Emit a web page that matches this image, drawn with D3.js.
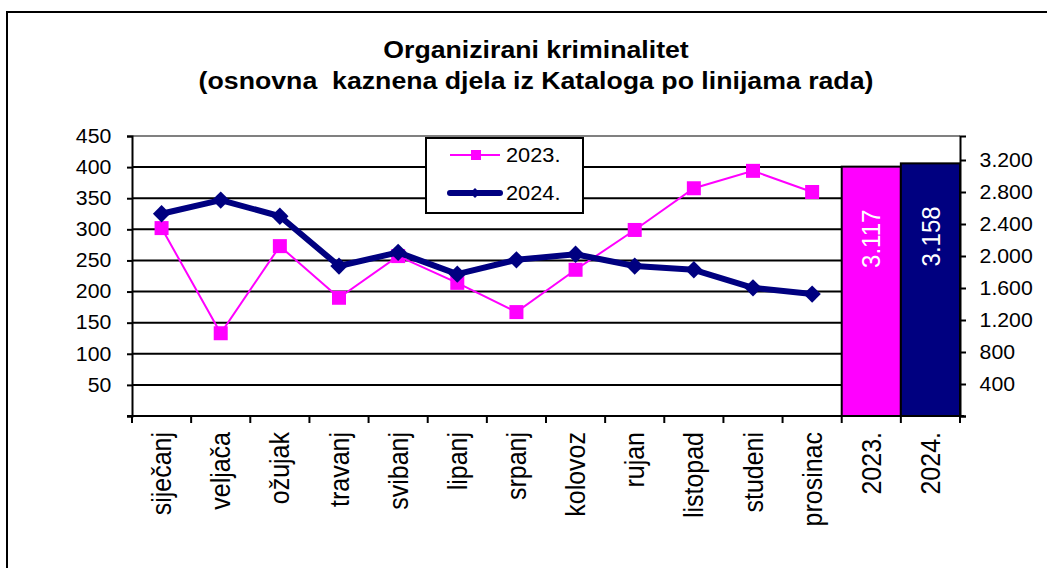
<!DOCTYPE html>
<html><head><meta charset="utf-8">
<script src="https://cdn.jsdelivr.net/npm/d3@7"></script>
<style>html,body{margin:0;padding:0;background:#fff;}svg{display:block;}</style>
</head><body>
<svg id="c" width="1047" height="568"></svg>
<script>
const months = ["siječanj","veljača","ožujak","travanj","svibanj","lipanj","srpanj","kolovoz","rujan","listopad","studeni","prosinac"];
const totalCats = ["2023.","2024."];
const categories = months.concat(totalCats);
const values2023 = [302,133,273,190,257,214,167,235,299,366,394,360];
const values2024 = [325,347,321,241,263,228,251,260,241,235,206,196];
const totals = [3117,3158];
const seriesNames = ["2023.","2024."];
const leftTicks = [0,50,100,150,200,250,300,350,400,450];
const rightTicks = [0,400,800,1200,1600,2000,2400,2800,3200];
const titleLines = ["Organizirani kriminalitet","(osnovna  kaznena djela iz Kataloga po linijama rada)"];

const MAG = "#FF00FF", NAVY = "#000080";
const FONT = "'Liberation Sans', Arial, sans-serif";
const SX = 1.09;
const loc = d3.formatLocale({decimal:",", thousands:".", grouping:[3], currency:["","€"]});
const fmt = loc.format(",d");

const svg = d3.select("#c");
svg.append("rect").attr("width",1047).attr("height",568).attr("fill","#fff");
svg.append("rect").attr("x",7).attr("y",12).attr("width",1100).attr("height",600)
  .attr("fill","none").attr("stroke","#000").attr("stroke-width",2);

// title
titleLines.forEach((t,i)=>{
  svg.append("text").attr("transform",`translate(536,${58+i*31}) scale(${SX},1)`)
    .attr("text-anchor","middle").attr("font-family",FONT).attr("font-weight","bold")
    .attr("font-size","24.5px").attr("fill","#000").style("white-space","pre")
    .attr("xml:space","preserve").text(t);
});

const L = 132, R = 960, T = 136, B = 416;
const x = d3.scaleBand().domain(categories).range([L,R]).padding(0);
const yL = d3.scaleLinear().domain([0,450]).range([B,T]);
const yR = d3.scaleLinear().domain([0,3500]).range([B,T]);

// gridlines
svg.append("g").selectAll("line").data(leftTicks.filter(d=>d>0)).join("line")
  .attr("x1",L).attr("x2",R).attr("y1",d=>yL(d)).attr("y2",d=>yL(d))
  .attr("stroke",d=>d===450?"#808080":"#000").attr("stroke-width",2);

// bars
const barData = totalCats.map((c,i)=>({cat:c,v:totals[i],color:i===0?MAG:NAVY}));
svg.append("g").selectAll("rect").data(barData).join("rect")
  .attr("x",d=>x(d.cat)).attr("width",x.bandwidth())
  .attr("y",d=>yR(d.v)).attr("height",d=>B-yR(d.v))
  .attr("fill",d=>d.color).attr("stroke","#000").attr("stroke-width",2);
svg.append("g").selectAll("text").data(barData).join("text")
  .attr("transform",d=>`translate(${x(d.cat)+x.bandwidth()/2},${yR(d.v)+43}) scale(${SX},1) rotate(-90)`)
  .attr("text-anchor","end").attr("dy","0.35em").attr("font-family",FONT).attr("font-size","24px")
  .attr("fill","#fff").text(d=>fmt(d.v));

// left axis
const gl = svg.append("g").attr("transform",`translate(${L},0)`)
  .call(d3.axisLeft(yL).tickValues(leftTicks).tickSize(5).tickPadding(14).tickFormat(d=>d===0?"":d));
gl.select(".domain").attr("stroke-width",2).attr("stroke","#000");
gl.selectAll(".tick line").attr("stroke-width",2);
gl.selectAll(".tick text").attr("font-family",FONT).attr("font-size","19.5px").attr("fill","#000")
  .attr("transform",`scale(${SX},1)`);

// right axis
const gr = svg.append("g").attr("transform",`translate(${R},0)`)
  .call(d3.axisRight(yR).tickValues(rightTicks).tickSize(6).tickPadding(12).tickFormat(d=>d===0?"":fmt(d)));
gr.select(".domain").attr("stroke-width",2).attr("stroke","#000");
gr.selectAll(".tick line").attr("stroke-width",2);
gr.selectAll(".tick text").attr("font-family",FONT).attr("font-size","19.5px").attr("fill","#000")
  .attr("transform",`scale(${SX},1)`);

// bottom axis (ticks at band boundaries)
const gb = svg.append("g");
gb.append("line").attr("x1",L-5).attr("x2",R+4).attr("y1",B).attr("y2",B).attr("stroke","#000").attr("stroke-width",2);
const bounds = categories.map(c=>x(c)).concat([x(categories[categories.length-1])+x.bandwidth()]);
gb.selectAll("line.tk").data(bounds).join("line").attr("class","tk")
  .attr("x1",d=>d).attr("x2",d=>d).attr("y1",B).attr("y2",B+7).attr("stroke","#000").attr("stroke-width",2);
gb.selectAll("text").data(categories).join("text")
  .attr("transform",c=>`translate(${x(c)+x.bandwidth()/2},${B+16}) scale(${SX},1) rotate(-90)`)
  .attr("text-anchor","end").attr("dy","0.35em").attr("font-family",FONT).attr("font-size","25px")
  .attr("fill","#000").text(c=>c);

// lines
const cx = c=>x(c)+x.bandwidth()/2;
const d23 = months.map((m,i)=>({cat:m,v:values2023[i]}));
const d24 = months.map((m,i)=>({cat:m,v:values2024[i]}));
const line = d3.line().x(d=>cx(d.cat)).y(d=>yL(d.v));
svg.append("path").datum(d23).attr("d",line).attr("fill","none").attr("stroke",MAG).attr("stroke-width",2);
svg.append("g").selectAll("rect").data(d23).join("rect")
  .attr("x",d=>cx(d.cat)-7).attr("y",d=>yL(d.v)-7).attr("width",14).attr("height",14).attr("fill",MAG);
svg.append("path").datum(d24).attr("d",line).attr("fill","none").attr("stroke",NAVY).attr("stroke-width",6)
  .attr("stroke-linejoin","round");
svg.append("g").selectAll("path").data(d24).join("path")
  .attr("transform",d=>`translate(${cx(d.cat)},${yL(d.v)}) rotate(45)`).attr("d",d3.symbol().type(d3.symbolSquare).size(150)).attr("fill",NAVY);

// legend
const lg = svg.append("g");
lg.append("rect").attr("x",426).attr("y",138).attr("width",157).attr("height",75)
  .attr("fill","#fff").attr("stroke","#000").attr("stroke-width",2);
const legItems = [{name:seriesNames[0],color:MAG,w:2,y:155},{name:seriesNames[1],color:NAVY,w:6,y:193}];
legItems.forEach((it,i)=>{
  lg.append("line").attr("x1",450).attr("x2",500).attr("y1",it.y).attr("y2",it.y)
    .attr("stroke",it.color).attr("stroke-width",it.w).attr("stroke-linecap",i===1?"round":"butt");
  if(i===0){
    lg.append("rect").attr("x",471).attr("y",it.y-5).attr("width",10).attr("height",10).attr("fill",MAG);
  } else {
    lg.append("path").attr("transform",`translate(475,${it.y}) rotate(45)`).attr("d",d3.symbol().type(d3.symbolSquare).size(50)).attr("fill",NAVY);
  }
  lg.append("text").attr("transform",`translate(506,${it.y}) scale(${SX},1)`).attr("dy","0.35em")
    .attr("font-family",FONT).attr("font-size","20px").attr("fill","#000").text(it.name);
});
</script>
</body></html>
